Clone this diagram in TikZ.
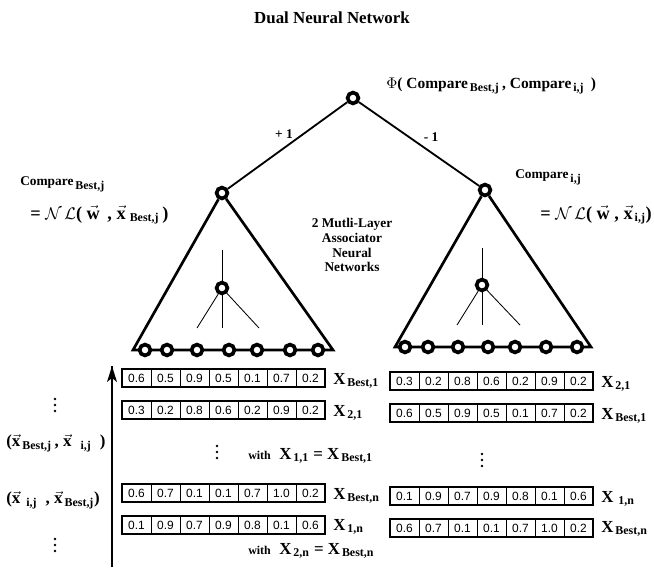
\documentclass[tikz,border=0pt]{standalone}
\usepackage{amssymb}
\usepackage{amsmath}
\usepackage{fontspec}
\setmainfont{Liberation Serif}
\newfontfamily\cellfont{Liberation Sans}
\usepackage{tikz}
\usetikzlibrary{arrows.meta}
\pgfdeclarelayer{edgelayer}
\pgfdeclarelayer{nodelayer}
\pgfsetlayers{edgelayer,main,nodelayer}
\tikzstyle{neuron}=[circle,fill=white,draw=black,line width=2.6pt,minimum size=2.7mm,inner sep=0pt]
\tikzstyle{cell}=[draw=black,line width=0.6pt,minimum width=7.25mm,minimum height=4.1mm,inner sep=0pt,font=\cellfont\fontsize{8.5}{9}\selectfont]
\tikzstyle{lbl}=[font=\bfseries\fontsize{9.5}{10}\selectfont,inner sep=0pt]
\tikzstyle{xlbl}=[font=\bfseries\fontsize{12}{13}\selectfont,inner sep=0pt,anchor=west]
\newcommand{\sub}[1]{$_{\text{\bfseries\fontsize{8.5}{9}\selectfont #1}}$}
\newcommand{\vx}{$\vec{\mathbf{x}}$}

\begin{document}
\begin{tikzpicture}[x=0.25mm,y=-0.25mm]
        \useasboundingbox (0,0) rectangle (654,573);
        \node [font=\bfseries\fontsize{12}{14}\selectfont] (title) at (332,18) {Dual Neural Network};

        \begin{pgfonlayer}{nodelayer}
            \node [style = neuron] (top) at (353, 98) {};
            \node [style = neuron] (lt) at (222, 193) {};
            \node [style = neuron] (rt) at (485, 190) {};
            \node [style = neuron] (lh) at (222, 288) {};
            \node [style = neuron] (rh) at (482, 285) {};
            \foreach \x [count=\i] in {145,167,197,229,257,290,318}
                \node [style = neuron] (li\i) at (\x, 350) {};
            \foreach \x [count=\i] in {405,428,458,488,515,546,577}
                \node [style = neuron] (ri\i) at (\x, 347) {};
        \end{pgfonlayer}

        % triangle corners and hidden layer ends
        \coordinate (lbl) at (133, 350);
        \coordinate (lbr) at (333, 350);
        \coordinate (rbl) at (395, 347);
        \coordinate (rbr) at (591, 347);
        \coordinate (lhup) at (222, 250);
        \coordinate (lhdn) at (222, 328);
        \coordinate (lhl) at (197, 328);
        \coordinate (lhr) at (259, 328);
        \coordinate (rhup) at (482, 248);
        \coordinate (rhdn) at (482, 325);
        \coordinate (rhl) at (457, 325);
        \coordinate (rhr) at (520, 325);

        \begin{pgfonlayer}{edgelayer}
            \draw [line width=1.3pt] (top) to (lt);
            \draw [line width=1.3pt] (top) to (rt);
            \draw [line width=1.9pt] (lt) to (lbl) -- (lbr) -- (lt);
            \draw [line width=1.9pt] (rt) to (rbl) -- (rbr) -- (rt);
            \draw [line width=0.6pt] (lhup) to (lhdn);
            \draw [line width=0.6pt] (lhl) to (lh) to (lhr);
            \draw [line width=0.6pt] (rhup) to (rhdn);
            \draw [line width=0.6pt] (rhl) to (rh) to (rhr);
        \end{pgfonlayer}

        \node [style = lbl] (plus) at (284, 134) {+ 1};
        \node [style = lbl] (minus) at (431, 137) {- 1};
        \node [style = lbl, anchor=west] (phi) at (386, 86) {\fontsize{11}{12}\selectfont$\Phi$( Compare\sub{\,Best,j}\,, Compare\sub{\,i,j}\, )};
        \node [style = lbl, anchor=west] (cleft) at (20, 184) {Compare\sub{\,Best,j}};
        \node [style = lbl, anchor=west] (nleft) at (30, 215) {\fontsize{13}{14}\selectfont= $\mathcal{N}\,\mathcal{L}$( $\vec{\mathbf{w}}$\, , \vx\sub{\,\,Best,j}\,)};
        \node [style = lbl, anchor=west] (cright) at (515, 177) {Compare\sub{\,i,j}};
        \node [style = lbl, anchor=west] (nright) at (540, 215) {\fontsize{13}{14}\selectfont= $\mathcal{N}\,\mathcal{L}$( $\vec{\mathbf{w}}$ , \vx\sub{\,i,j})};
        \node [style = lbl, align=center, font=\bfseries\fontsize{9.5}{10.6}\selectfont] (mlp) at (352, 245) {2 Mutli-Layer\\Associator\\Neural\\Networks};

        % input rows
        \foreach \r/\y/\vals in {1/378/{0.6,0.5,0.9,0.5,0.1,0.7,0.2}, 2/410/{0.3,0.2,0.8,0.6,0.2,0.9,0.2}, 3/493/{0.6,0.7,0.1,0.1,0.7,1.0,0.2}, 4/525/{0.1,0.9,0.7,0.9,0.8,0.1,0.6}} {
            \foreach \v [count=\c] in \vals
                \node [style = cell] (L\r c\c) at (107.5+29*\c, \y) {\v};
            \draw [line width=1.4pt] (L\r c1.north west) rectangle (L\r c7.south east);
        }
        \foreach \r/\y/\vals in {1/381/{0.3,0.2,0.8,0.6,0.2,0.9,0.2}, 2/413/{0.6,0.5,0.9,0.5,0.1,0.7,0.2}, 3/496/{0.1,0.9,0.7,0.9,0.8,0.1,0.6}, 4/528/{0.6,0.7,0.1,0.1,0.7,1.0,0.2}} {
            \foreach \v [count=\c] in \vals
                \node [style = cell] (R\r c\c) at (375.5+29*\c, \y) {\v};
            \draw [line width=1.4pt] (R\r c1.north west) rectangle (R\r c7.south east);
        }

        \node [style = xlbl] (xl1) at (333, 381) {X\sub{\,Best,1}};
        \node [style = xlbl] (xl2) at (333, 413) {X\sub{\,2,1}};
        \node [style = xlbl] (xl3) at (333, 496) {X\sub{\,Best,n}};
        \node [style = xlbl] (xl4) at (333, 527) {X\sub{\,1,n}};
        \node [style = xlbl] (xr1) at (601, 384) {X\sub{\,2,1}};
        \node [style = xlbl] (xr2) at (601, 416) {X\sub{\,Best,1}};
        \node [style = xlbl] (xr3) at (601, 499) {X\sub{\,\ 1,n}};
        \node [style = xlbl] (xr4) at (601, 529) {X\sub{\,Best,n}};

        \node [style = xlbl] (with1) at (248, 456) {{\fontsize{8.5}{9}\selectfont with}\ \ X\sub{\,1,1} = X\sub{\,Best,1}};
        \node [style = xlbl] (with2) at (248, 551) {{\fontsize{8.5}{9}\selectfont with}\ \ X\sub{\,2,n} = X\sub{\,Best,n}};

        % vertical dots
        \foreach \x/\y in {217/452, 482/460, 55/405, 55/545}
            \foreach \d in {-6,0,6}
                \fill (\x, \y+\d) circle (0.35mm);

        \node [style = xlbl] (pair1) at (6, 443) {(\vx\sub{\,Best,j}\,, \vx\sub{\ \ \ i,j}\ \ )};
        \node [style = xlbl] (pair2) at (6, 500) {(\vx\sub{\ \ i,j}\ \ , \vx\sub{\,Best,j})};

        \coordinate (abot) at (112, 567);
        \coordinate (atop) at (112, 366);
        \draw [line width=1pt] (abot) to (atop);
        \fill (atop) -- ++(-5, 16) -- ++(5, -4) -- ++(5, 4) -- cycle;
    \end{tikzpicture}
\end{document}
